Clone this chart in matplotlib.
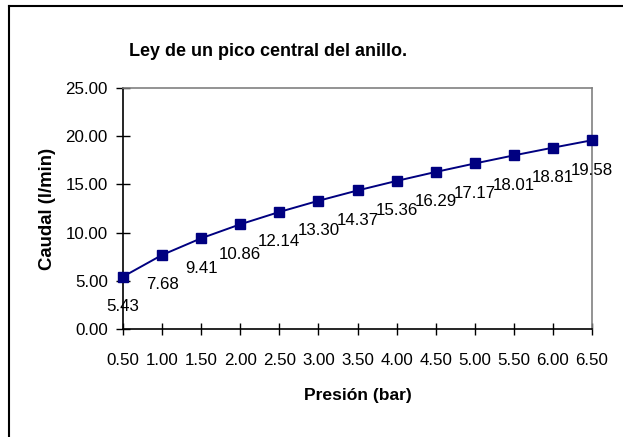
import matplotlib
matplotlib.use("Agg")
import matplotlib.pyplot as plt
from matplotlib.lines import Line2D

plt.rcParams['font.family'] = ['Liberation Sans', 'DejaVu Sans']

# Presión (bar) vs caudal (l/min)
presion = [0.5, 1.0, 1.5, 2.0, 2.5, 3.0, 3.5, 4.0, 4.5, 5.0, 5.5, 6.0, 6.5]
caudal = [5.43, 7.68, 9.41, 10.86, 12.14, 13.30, 14.37, 15.36, 16.29, 17.17, 18.01, 18.81, 19.58]
y_ticks = [0, 5, 10, 15, 20, 25]

W, H, DPI = 623, 437, 100
fig = plt.figure(figsize=(W / DPI, H / DPI), dpi=DPI)
fig.patch.set_facecolor('white')

# plot area in pixels: left 123, right 592, top 88, bottom 329
left, right, top, bottom = 123, 592, 88, 329
ax = fig.add_axes([left / W, 1 - bottom / H, (right - left) / W, (bottom - top) / H])

navy = '#000080'
ax.plot(presion, caudal, color=navy, lw=1.4, marker='s', markersize=7.2,
        markerfacecolor=navy, markeredgecolor=navy, zorder=3, clip_on=False)

for x, y in zip(presion, caudal):
    ax.annotate(f"{y:.2f}", (x, y), xytext=(0, -21.6), textcoords='offset points',
                ha='center', va='center', fontsize=12.2, color='black')

ax.set_xlim(presion[0], presion[-1])
ax.set_ylim(0, 25)
ax.set_xticks(presion)
ax.set_xticklabels([f"{p:.2f}" for p in presion])
ax.set_yticks(y_ticks)
ax.set_yticklabels([f"{v:.2f}" for v in y_ticks])

ax.tick_params(axis='x', direction='inout', length=9, width=1, pad=13, labelsize=12.2)
ax.tick_params(axis='y', direction='inout', length=10, width=1, pad=6, labelsize=12.2)

for s in ['left', 'bottom']:
    ax.spines[s].set_color('black')
    ax.spines[s].set_linewidth(1.2)
for s in ['top', 'right']:
    ax.spines[s].set_color('#808080')
    ax.spines[s].set_linewidth(1.2)

ax.set_xlabel('Presión (bar)', fontsize=12.6, fontweight='bold', labelpad=14)
ax.set_ylabel('Caudal (l/min)', fontsize=13.4, fontweight='bold', labelpad=7)

fig.text(268 / W, 1 - 51 / H, 'Ley de un pico central del anillo.', ha='center', va='center',
         fontsize=13, fontweight='bold')

# chart frame (left and top edges)
fig.add_artist(Line2D([8.5 / W, 8.5 / W], [0, 1 - 6 / H], transform=fig.transFigure,
                      color='black', lw=1.5))
fig.add_artist(Line2D([8.5 / W, 1], [1 - 6 / H, 1 - 6 / H], transform=fig.transFigure,
                      color='black', lw=1.5))

fig.savefig('out.png', dpi=DPI)
